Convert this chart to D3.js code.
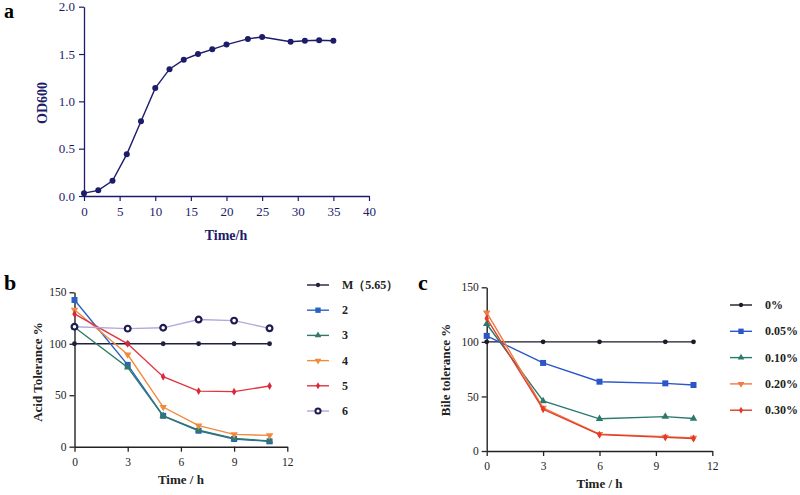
<!DOCTYPE html>
<html><head><meta charset="utf-8">
<script src="https://cdn.jsdelivr.net/npm/d3@7"></script>
<style>body{margin:0;background:#fff}svg{display:block;font-family:"Liberation Serif","Times New Roman",serif}</style>
</head><body><svg id="c" width="800" height="495"></svg>
<script>
// Panel a: growth curve
const growthTime = [0,2,4,6,8,10,12,14,16,18,20,23,25,29,31,33,35];
const growthOD = [0.03,0.06,0.16,0.44,0.79,1.14,1.34,1.44,1.50,1.55,1.60,1.66,1.68,1.63,1.64,1.645,1.64];
const aXTicks = [0,5,10,15,20,25,30,35,40];
const aYTicks = [0,0.5,1.0,1.5,2.0];

// Panel b: acid tolerance
const acidTime = [0,3,5,7,9,11];
const acidSeries = ["M（5.65）","2","3","4","5","6"];
const acidM  = [100,100,100,100,100,100];
const acid2  = [142.5,79.5,30,15.5,7.5,5.2];
const acid3  = [116,77,30,16,8,5.5];
const acid4  = [133,89.5,38.5,20.5,12,11];
const acid5  = [129,100,68,54,53.5,59];
const acid6  = [116.5,114.7,115.5,123.5,122.5,115];
const bXTicks = [0,3,6,9,12];
const bYTicks = [0,50,100,150];

// Panel c: bile tolerance
const bileTime = [0,3,6,9.5,11];
const bileSeries = ["0%","0.05%","0.10%","0.20%","0.30%"];
const bile0   = [100,100,100,100,100];
const bile005 = [105.5,80.7,63.5,62,60.5];
const bile010 = [116.4,45.8,29.5,31.5,29.8];
const bile020 = [126.8,39.5,15.5,13,12];
const bile030 = [121.5,38.2,15,12.5,11.5];
const cXTicks = [0,3,6,9,12];
const cYTicks = [0,50,100,150];

const svg = d3.select("#c");

// ---------- Panel a ----------
(function(){
  const navy = "#1c1c6b";
  const x = d3.scaleLinear().domain([0,40]).range([84,369]);
  const y = d3.scaleLinear().domain([0,2]).range([196,6.7]);
  const g = svg.append("g");
  const xa = g.append("g").attr("transform","translate(0,196)")
    .call(d3.axisBottom(x).tickValues(aXTicks).tickSize(5).tickPadding(6).tickSizeOuter(0));
  const ya = g.append("g").attr("transform","translate(84,0)")
    .call(d3.axisLeft(y).tickValues(aYTicks).tickFormat(d3.format(".1f")).tickSize(5).tickPadding(4).tickSizeOuter(0));
  [xa,ya].forEach(a=>{
    a.select(".domain").attr("stroke",navy).attr("stroke-width",1.3);
    a.selectAll(".tick line").attr("stroke",navy).attr("stroke-width",1.2);
    a.selectAll(".tick text").attr("fill",navy).attr("font-size",13).attr("font-family","Liberation Serif");
  });
  g.append("path").datum(growthTime.map((t,i)=>[t,growthOD[i]]))
    .attr("fill","none").attr("stroke",navy).attr("stroke-width",1.4)
    .attr("d",d3.line().x(d=>x(d[0])).y(d=>y(d[1])));
  g.selectAll("circle.p").data(growthTime.map((t,i)=>[t,growthOD[i]])).enter().append("circle")
    .attr("cx",d=>x(d[0])).attr("cy",d=>y(d[1])).attr("r",3).attr("fill",navy);
  g.append("text").attr("x",226).attr("y",240).attr("text-anchor","middle")
    .attr("font-weight","bold").attr("font-size",14).attr("fill",navy).text("Time/h");
  g.append("text").attr("transform","translate(47,103) rotate(-90)").attr("text-anchor","middle")
    .attr("font-weight","bold").attr("font-size",14).attr("fill",navy).text("OD600");
  svg.append("text").attr("x",4).attr("y",18).attr("font-weight","bold").attr("font-size",20).text("a");
})();

function markerPath(type, size){
  const map = {circle:d3.symbolCircle, square:d3.symbolSquare, triangle:d3.symbolTriangle, diamond:d3.symbolDiamond};
  return d3.symbol().type(map[type]).size(size)();
}

function panel(opts){
  const g = svg.append("g");
  const x = d3.scaleLinear().domain([0,12]).range([opts.x0,opts.x1]);
  const y = d3.scaleLinear().domain([0,150]).range([opts.y0,opts.y1]);
  const ax = "#222";
  const xa = g.append("g").attr("transform",`translate(0,${opts.y0})`)
    .call(d3.axisBottom(x).tickValues(opts.xt).tickSize(5).tickPadding(6).tickSizeOuter(0));
  const ya = g.append("g").attr("transform",`translate(${opts.x0},0)`)
    .call(d3.axisLeft(y).tickValues(opts.yt).tickSize(5).tickPadding(3).tickSizeOuter(0));
  [xa,ya].forEach(a=>{
    a.select(".domain").attr("stroke",ax).attr("stroke-width",1.4);
    a.selectAll(".tick line").attr("stroke",ax).attr("stroke-width",1.3);
    a.selectAll(".tick text").attr("fill","#222").attr("font-size",11.5).attr("font-family","Liberation Serif");
  });
  opts.series.forEach(s=>{
    const pts = opts.time.map((t,i)=>[t,s.v[i]]);
    g.append("path").datum(pts).attr("fill","none").attr("stroke",s.line).attr("stroke-width",1.4)
      .attr("d",d3.line().x(d=>x(d[0])).y(d=>y(d[1])));
    g.selectAll(null).data(pts).enter().append("path")
      .attr("transform",d=>`translate(${x(d[0])},${y(d[1])})${s.m==="tri-down"?" rotate(180)":""}`)
      .attr("d",markerPath(s.m==="tri-down"?"triangle":s.m, s.size))
      .attr("fill",s.open?"#fff":s.mc).attr("stroke",s.mc).attr("stroke-width",s.open?2.2:0);
  });
  g.append("text").attr("x",(opts.x0+opts.x1)/2).attr("y",opts.y0+37).attr("text-anchor","middle")
    .attr("font-weight","bold").attr("font-size",13).attr("fill","#222").text("Time / h");
  g.append("text").attr("transform",`translate(${opts.ylx},${opts.yly}) rotate(-90)`).attr("text-anchor","middle")
    .attr("font-weight","bold").attr("font-size",13).attr("fill","#222").text(opts.ylabel);
  svg.append("text").attr("x",opts.lx).attr("y",opts.ly).attr("font-weight","bold").attr("font-size",22).text(opts.letter);
  // legend
  opts.series.forEach((s,i)=>{
    const yy = opts.legY + i*opts.legDy;
    g.append("line").attr("x1",opts.legX).attr("x2",opts.legX+22).attr("y1",yy).attr("y2",yy)
      .attr("stroke",s.line).attr("stroke-width",1.4);
    g.append("path").attr("transform",`translate(${opts.legX+11},${yy})${s.m==="tri-down"?" rotate(180)":""}`)
      .attr("d",markerPath(s.m==="tri-down"?"triangle":s.m, s.size*0.8))
      .attr("fill",s.open?"#fff":s.mc).attr("stroke",s.mc).attr("stroke-width",s.open?2:0);
    g.append("text").attr("x",opts.legX+35).attr("y",yy+4).attr("font-weight","bold").attr("font-size",12)
      .attr("fill","#222").text(s.name);
  });
}

panel({
  x0:74.5, x1:287.3, y0:446.7, y1:292.3, xt:bXTicks, yt:bYTicks, time:acidTime,
  ylabel:"Acid Tolerance %", ylx:42, yly:372, letter:"b", lx:4, ly:290,
  legX:307, legY:285, legDy:25.2,
  series:[
    {name:acidSeries[0], v:acidM, line:"#1f1f3f", mc:"#1f1f3f", m:"circle", size:18},
    {name:acidSeries[1], v:acid2, line:"#2a62c4", mc:"#2a62c4", m:"square", size:36},
    {name:acidSeries[2], v:acid3, line:"#2e7a6a", mc:"#2e7a6a", m:"triangle", size:24},
    {name:acidSeries[3], v:acid4, line:"#f08a3c", mc:"#f08a3c", m:"tri-down", size:24},
    {name:acidSeries[4], v:acid5, line:"#e0353f", mc:"#d8283a", m:"diamond", size:18},
    {name:acidSeries[5], v:acid6, line:"#b3a7dc", mc:"#1c1c4e", m:"circle", size:26, open:true}
  ]
});

panel({
  x0:486.7, x1:712.3, y0:451, y1:287.3, xt:cXTicks, yt:cYTicks, time:bileTime,
  ylabel:"Bile tolerance %", ylx:450, yly:370, letter:"c", lx:418, ly:290,
  legX:730, legY:305, legDy:26.3,
  series:[
    {name:bileSeries[0], v:bile0,   line:"#1a1a2a", mc:"#1a1a2a", m:"circle", size:18},
    {name:bileSeries[1], v:bile005, line:"#2a56c8", mc:"#2a56c8", m:"square", size:36},
    {name:bileSeries[2], v:bile010, line:"#2a7a6c", mc:"#2a7a6c", m:"triangle", size:24},
    {name:bileSeries[3], v:bile020, line:"#f07a40", mc:"#f07a40", m:"tri-down", size:24},
    {name:bileSeries[4], v:bile030, line:"#e33a2a", mc:"#e33a2a", m:"diamond", size:18}
  ]
});
</script></body></html>
